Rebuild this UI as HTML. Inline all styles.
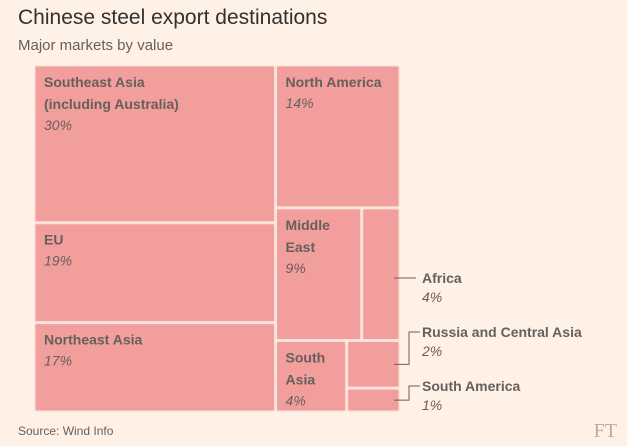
<!DOCTYPE html>
<html><head><meta charset="utf-8"><style>
body{margin:0;background:#fff1e5;width:627px;height:446px;overflow:hidden;font-family:"Liberation Sans",sans-serif;position:relative}
#title{position:absolute;left:18px;top:6px;font-size:21px;color:#33302e}
#sub{position:absolute;left:18px;top:37px;font-size:15px;color:#66605c}
#src{position:absolute;left:18px;top:424px;font-size:12px;color:#66605c}
#ft{position:absolute;right:10px;top:420px;font-family:"Liberation Serif",serif;font-size:20px;color:#b8aca2}
</style></head><body>
<div id="title">Chinese steel export destinations</div>
<div id="sub">Major markets by value</div>
<svg id="chart" width="627" height="446" style="position:absolute;left:0;top:0"></svg>
<div id="src">Source: Wind Info</div>
<div id="ft">FT</div>
<script>
const names=["Southeast Asia|(including Australia)","EU","Northeast Asia","North America","Middle|East","Africa","South|Asia","Russia and Central Asia","South America"];
const values=[30,19,17,14,9,4,4,2,1];
const outside=[false,false,false,false,false,true,false,true,true];
// tree: [direction, children] ; leaves are indices
const tree=["h",[["v",[0,1,2]],["v",[3,["v",[["h",[4,5]],["h",[6,["v",[7,8]]]]]]]]]];
const X0=34,Y0=65,W=366,H=347;
const svg=document.getElementById('chart');
const NS="http://www.w3.org/2000/svg";
function sum(n){return typeof n==="number"?values[n]:n[1].reduce((a,c)=>a+sum(c),0);}
const rects=[];
function layout(n,x,y,w,h){
  if(typeof n==="number"){rects[n]={x,y,w,h};return;}
  const t=sum(n);let off=0;
  n[1].forEach(c=>{const f=sum(c)/t;
    if(n[0]==="h"){layout(c,x+off,y,w*f,h);off+=w*f;}
    else{layout(c,x,y+off,w,h*f);off+=h*f;}});
}
layout(tree,X0,Y0,W,H);
function txt(x,y,s,opt){const t=document.createElementNS(NS,'text');t.setAttribute('x',x);t.setAttribute('y',y);
  t.setAttribute('font-size',14);t.setAttribute('fill','#66605c');t.setAttribute('font-family','"Liberation Sans",sans-serif');
  if(opt==='b')t.setAttribute('font-weight','bold');else t.setAttribute('font-style','italic');t.textContent=s;return t;}
let outY=283;
rects.forEach((r,i)=>{
  const g=document.createElementNS(NS,'g');
  
  
  const rc=document.createElementNS(NS,'rect');
  rc.setAttribute('x',r.x+0.75);rc.setAttribute('y',r.y+0.75);rc.setAttribute('width',Math.max(0,r.w-1.5));rc.setAttribute('height',Math.max(0,r.h-1.5));
  rc.setAttribute('fill','#f29e9c');rc.setAttribute('stroke','#fbe3dc');rc.setAttribute('stroke-width',1.5);rc.setAttribute('rx',1.5);
  g.appendChild(rc);
  const lines=names[i].split('|');
  let tx,ty,gap=22;
  if(!outside[i]){tx=r.x+10;ty=r.y+22;}
  else{
    tx=422;ty=outY;outY+=54;gap=20;
    const p=document.createElementNS(NS,'path');
    const ly=ty-5, ry=r.y+r.h/2;
    if(Math.abs(ry-ly)<4)p.setAttribute('d',`M${r.x+r.w-6},${ly} H${tx-6}`);
    else p.setAttribute('d',`M${r.x+r.w-6},${ry} H${tx-13} V${ly} H${tx-2}`);
    p.setAttribute('stroke','#66605c');p.setAttribute('fill','none');p.setAttribute('stroke-width',1);
    
    g.appendChild(p);
  }
  lines.forEach((l,k)=>g.appendChild(txt(tx,ty+k*gap,l,'b')));
  g.appendChild(txt(tx,ty+lines.length*gap-1,values[i]+'%','i'));
  svg.appendChild(g);
});
</script>
</body></html>
